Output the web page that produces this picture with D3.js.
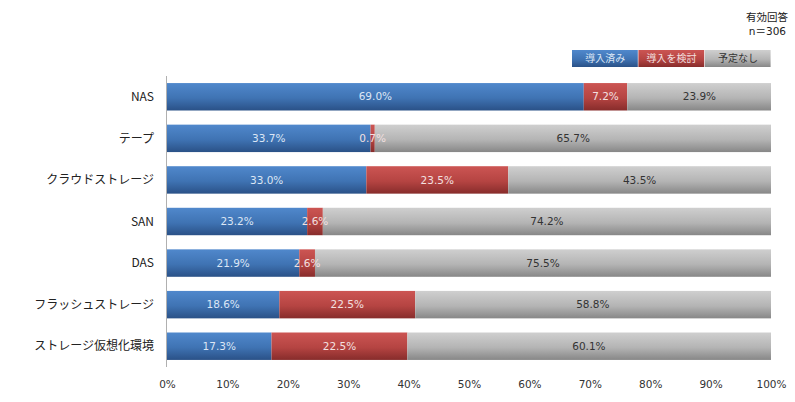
<!DOCTYPE html>
<html>
<head>
<meta charset="utf-8">
<script src="https://cdn.jsdelivr.net/npm/d3@7"></script>
<style>
body { margin: 0; background: #fff; }
text { font-family: "Noto Sans CJK JP", "Noto Sans", sans-serif; }
text.num { font-family: "DejaVu Sans", "Noto Sans CJK JP", sans-serif; }
</style>
</head>
<body>
<div id="chart"></div>
<script>
// data
var categories = ["NAS", "テープ", "クラウドストレージ", "SAN", "DAS", "フラッシュストレージ", "ストレージ仮想化環境"];
var seriesNames = ["導入済み", "導入を検討", "予定なし"];
var introduced = [69.0, 33.7, 33.0, 23.2, 21.9, 18.6, 17.3];
var considering = [7.2, 0.7, 23.5, 2.6, 2.6, 22.5, 22.5];
var noPlan = [23.9, 65.7, 43.5, 74.2, 75.5, 58.8, 60.1];
var xTicks = [0, 10, 20, 30, 40, 50, 60, 70, 80, 90, 100];

var width = 795, height = 402;
var colors = [
    ["#5088cc", "#3f73b3", "#2a5187"],
    ["#cc5553", "#b54442", "#872c2b"],
    ["#cfcfcf", "#b4b4b4", "#878787"]
];
var labelColors = ["#dce6f5", "#f3e0e0", "#333333"];

var svg = d3.select("#chart").append("svg")
    .attr("width", width)
    .attr("height", height);

var defs = svg.append("defs");
colors.forEach(function (c, i) {
    var g = defs.append("linearGradient")
        .attr("id", "grad" + i)
        .attr("x1", 0).attr("y1", 0).attr("x2", 0).attr("y2", 1);
    g.append("stop").attr("offset", "0%").attr("stop-color", c[0]);
    g.append("stop").attr("offset", "55%").attr("stop-color", c[1]);
    g.append("stop").attr("offset", "100%").attr("stop-color", c[2]);
});

var x = d3.scaleLinear().domain([0, 100]).range([167, 771]);
var y = d3.scaleBand().domain(categories).range([76, 367])
    .paddingInner(0.34).paddingOuter(0.17);

var rows = categories.map(function (c, i) {
    return { cat: c, vals: [introduced[i], considering[i], noPlan[i]] };
});

// bars
rows.forEach(function (r) {
    var start = 0;
    r.vals.forEach(function (v, j) {
        var x0 = start;
        var x1 = (j === 2) ? 100 : start + v;
        svg.append("rect")
            .attr("x", x(x0))
            .attr("y", y(r.cat))
            .attr("width", x(x1) - x(x0))
            .attr("height", y.bandwidth())
            .attr("fill", "url(#grad" + j + ")");
        start += v;
    });
});

// value labels on top of all bars
rows.forEach(function (r) {
    var start = 0;
    r.vals.forEach(function (v, j) {
        svg.append("text")
            .attr("class", "num")
            .attr("x", x(start + v / 2))
            .attr("y", y(r.cat) + y.bandwidth() / 2)
            .attr("dy", "0.35em")
            .attr("text-anchor", "middle")
            .attr("font-size", 10.5)
            .attr("fill", labelColors[j])
            .text(v.toFixed(1) + "%");
        start += v;
    });
});

// category axis
svg.append("line")
    .attr("x1", 166.5).attr("x2", 166.5)
    .attr("y1", 76).attr("y2", 367)
    .attr("stroke", "#b0b0b0")
    .attr("stroke-width", 1);

svg.selectAll(".cat")
    .data(categories)
    .enter().append("text")
    .attr("class", "cat")
    .attr("x", 154)
    .attr("y", function (d) { return y(d) + y.bandwidth() / 2; })
    .attr("dy", "0.35em")
    .attr("text-anchor", "end")
    .attr("font-size", 12)
    .attr("fill", "#222")
    .text(function (d) { return d; });

// value axis labels
var xAxis = d3.axisBottom(x)
    .tickValues(xTicks)
    .tickSize(0)
    .tickPadding(0)
    .tickFormat(function (d) { return d + "%"; });
var gx = svg.append("g")
    .attr("transform", "translate(0,381)")
    .call(xAxis);
gx.select(".domain").remove();
gx.selectAll("text")
    .attr("class", "num")
    .attr("font-size", 10.5)
    .attr("fill", "#333");
gx.attr("font-family", null);

// legend
var legX = 572, legW = 66.4, legY = 50, legH = 17;
seriesNames.forEach(function (s, i) {
    svg.append("rect")
        .attr("x", legX + i * legW)
        .attr("y", legY)
        .attr("width", legW - 0.6)
        .attr("height", legH)
        .attr("fill", "url(#grad" + i + ")");
    svg.append("text")
        .attr("x", legX + i * legW + legW / 2)
        .attr("y", legY + legH / 2)
        .attr("dy", "0.35em")
        .attr("text-anchor", "middle")
        .attr("font-size", 10)
        .attr("fill", labelColors[i])
        .text(s);
});

// note
svg.append("text")
    .attr("x", 788).attr("y", 17).attr("dy", "0.35em")
    .attr("text-anchor", "end")
    .attr("font-size", 10.5)
    .attr("fill", "#222")
    .text("有効回答");
svg.append("text")
    .attr("class", "num")
    .attr("x", 786).attr("y", 31).attr("dy", "0.35em")
    .attr("text-anchor", "end")
    .attr("font-size", 10.5)
    .attr("fill", "#222")
    .text("n＝306");
</script>
</body>
</html>
